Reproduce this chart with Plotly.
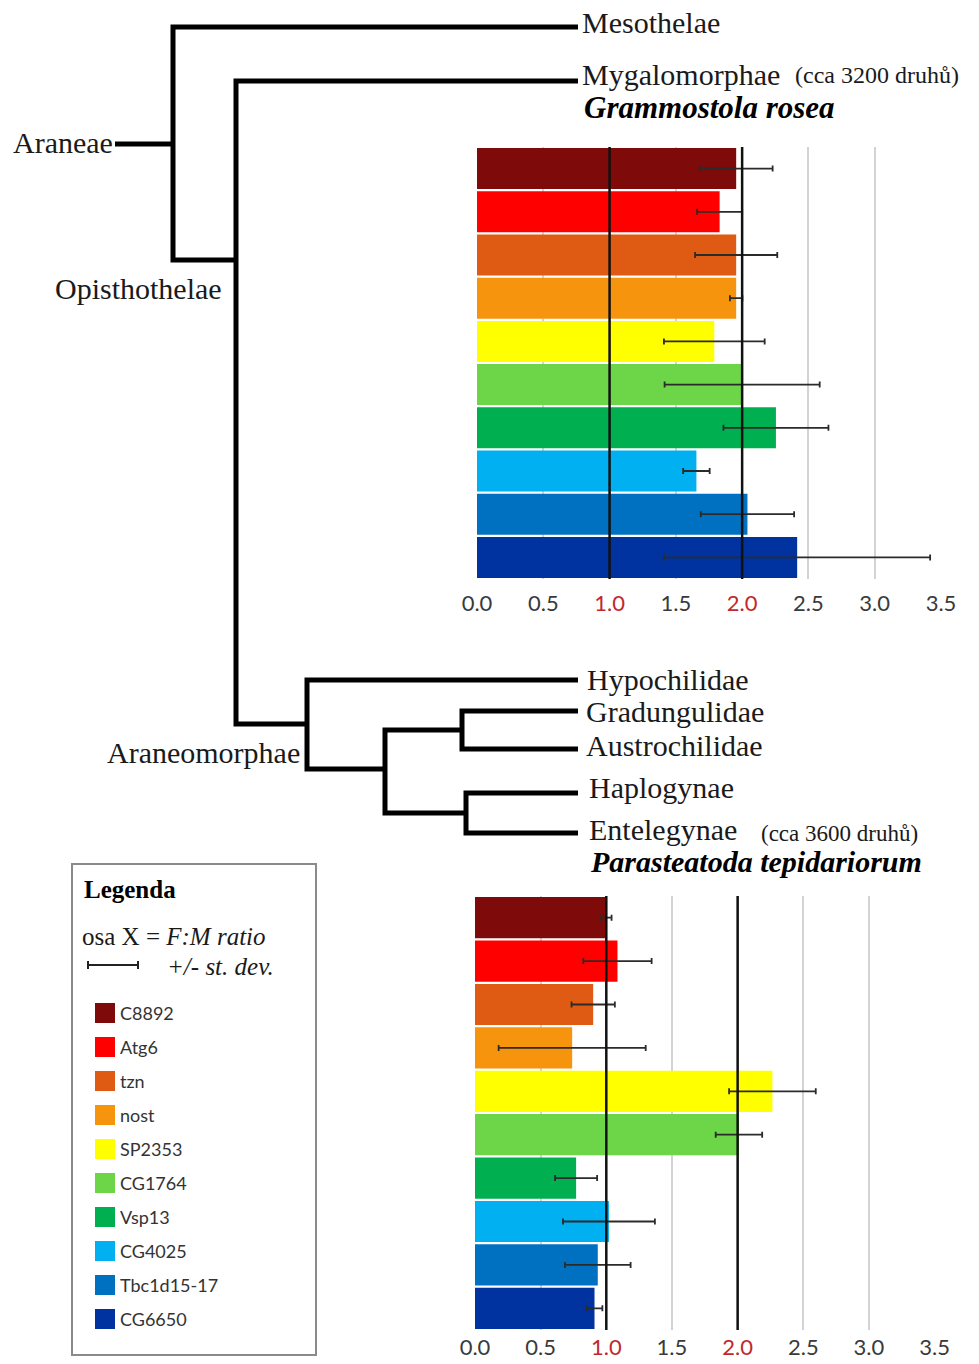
import plotly.graph_objects as go

# ---------------- data ----------------
genes = ["C8892", "Atg6", "tzn", "nost", "SP2353", "CG1764", "Vsp13", "CG4025", "Tbc1d15-17", "CG6650"]
gene_colors = ["#7E0A0A", "#FF0000", "#DF5A12", "#F7940E", "#FFFF00", "#6CD648", "#00B050", "#00B0F0", "#0070C0", "#0033A0"]

# Grammostola rosea (Mygalomorphae): F:M ratio and st. dev.
rosea_ratio = [1.955, 1.83, 1.955, 1.955, 1.79, 2.0, 2.255, 1.655, 2.04, 2.415]
rosea_sd = [0.275, 0.17, 0.31, 0.047, 0.38, 0.585, 0.396, 0.10, 0.352, 1.003]

# Parasteatoda tepidariorum (Entelegynae): F:M ratio and st. dev.
tep_ratio = [1.0, 1.085, 0.90, 0.74, 2.265, 2.01, 0.77, 1.02, 0.935, 0.91]
tep_sd = [0.04, 0.26, 0.165, 0.56, 0.33, 0.177, 0.16, 0.35, 0.25, 0.06]

tick_vals = [0.0, 0.5, 1.0, 1.5, 2.0, 2.5, 3.0, 3.5]
tick_labels = ["0.0", "0.5", "1.0", "1.5", "2.0", "2.5", "3.0", "3.5"]
highlight_ticks = ["1.0", "2.0"]

# ---------------- figure ----------------
W, H = 979, 1364
RED = "#C0282D"
ticktext = [f"<span style='color:{RED}'>{t}</span>" if t in highlight_ticks else t for t in tick_labels]

fig = go.Figure()

err_style = dict(type="data", color="#2b2b2b", thickness=1.8, width=3)

fig.add_trace(go.Bar(x=rosea_ratio, y=genes, orientation="h", marker=dict(color=gene_colors, line=dict(width=0)),
                     error_x=dict(array=rosea_sd, **err_style), xaxis="x", yaxis="y", showlegend=False,
                     hoverinfo="x+y"))
fig.add_trace(go.Bar(x=tep_ratio, y=genes, orientation="h", marker=dict(color=gene_colors, line=dict(width=0)),
                     error_x=dict(array=tep_sd, **err_style), xaxis="x2", yaxis="y2", showlegend=False,
                     hoverinfo="x+y"))

# ---------------- tree (pixel-space overlay axes) ----------------
tree_paths = [
    [(578, 27), (173, 27), (173, 260), (236, 260)],
    [(115, 144), (173, 144)],
    [(578, 81), (236, 81), (236, 724), (307, 724)],
    [(578, 680), (307, 680), (307, 769), (385, 769)],
    [(462, 730), (385, 730), (385, 813), (466, 813)],
    [(578, 711), (462, 711), (462, 749), (578, 749)],
    [(578, 793), (466, 793), (466, 833), (578, 833)],
]
for p in tree_paths:
    fig.add_trace(go.Scatter(x=[q[0] for q in p], y=[q[1] for q in p], mode="lines",
                             line=dict(color="black", width=5), xaxis="x3", yaxis="y3",
                             showlegend=False, hoverinfo="skip"))

SERIF = "Liberation Serif, Times New Roman, serif"
SANS = "Lato, Open Sans, sans-serif"
ann = []


def label(x, y, text, size=30, anchor="left", color="#1a1a1a", font=SERIF):
    ann.append(dict(x=x, y=y, xref="x3", yref="y3", text=text, showarrow=False, xanchor=anchor,
                    yanchor="middle", borderpad=0, font=dict(family=font, size=size, color=color)))


label(581, 22, "Mesothelae")
label(581, 74, "Mygalomorphae")
label(794, 75, "(cca 3200 druhů)", size=24)
label(583, 107, "<b><i>Grammostola rosea</i></b>", size=31, color="black")
label(114, 142, "Araneae", anchor="right")
label(223, 288, "Opisthothelae", anchor="right")
label(301, 752, "Araneomorphae", anchor="right")
label(586, 679, "Hypochilidae")
label(585, 711, "Gradungulidae")
label(585, 745, "Austrochilidae")
label(588, 787, "Haplogynae")
label(588, 829, "Entelegynae")
label(760, 833, "(cca 3600 druhů)", size=23)
label(589, 861, "<b><i>Parasteatoda tepidariorum</i></b>", size=30, color="black")

# ---------------- legend box ----------------
label(83, 889, "<b>Legenda</b>", size=25, color="black")
label(81, 936, "osa X = <i>F:M ratio</i>", size=25)
label(166, 966, "<i>+/- st. dev.</i>", size=25)
fig.add_trace(go.Scatter(x=[88, 138], y=[965, 965], mode="lines", line=dict(color="#222", width=2.2),
                         xaxis="x3", yaxis="y3", showlegend=False, hoverinfo="skip"))
for xc in (88, 138):
    fig.add_trace(go.Scatter(x=[xc, xc], y=[961, 969], mode="lines", line=dict(color="#222", width=2),
                             xaxis="x3", yaxis="y3", showlegend=False, hoverinfo="skip"))

leg_y = [1013 + 34 * i for i in range(len(genes))]
fig.add_trace(go.Scatter(x=[105] * len(genes), y=leg_y, mode="markers",
                         marker=dict(symbol="square", size=20, color=gene_colors, line=dict(width=0)),
                         xaxis="x3", yaxis="y3", showlegend=False, hoverinfo="skip"))
for g, yy in zip(genes, leg_y):
    label(119, yy, g, size=18, color="#333", font=SANS)

shapes = [
    dict(type="rect", xref="x3", yref="y3", x0=72, x1=316, y0=864, y1=1355,
         line=dict(color="#8a8a8a", width=2), fillcolor="rgba(0,0,0,0)", layer="below"),
]
for xa, ya in (("x", "y"), ("x2", "y2")):
    for v in (1.0, 2.0):
        shapes.append(dict(type="line", xref=xa, yref=f"{ya} domain",
                           x0=v, x1=v, y0=0, y1=1, line=dict(color="#111", width=2.5), layer="above"))

axis_x = dict(range=[0, 3.5], tickmode="array", tickvals=tick_vals, ticktext=ticktext,
              showgrid=True, gridcolor="#D3D3D3", gridwidth=1.5, zeroline=False, showline=False,
              ticks="", tickfont=dict(family=SANS, size=22, color="#3a3a3a"),
              fixedrange=True, automargin=False)
axis_y = dict(autorange="reversed", showticklabels=False, showgrid=False, zeroline=False,
              showline=False, ticks="", fixedrange=True, automargin=False)
hidden = dict(domain=[0, 1], visible=False, fixedrange=True, automargin=False,
              showgrid=False, zeroline=False)

fig.update_layout(
    template="none",
    width=W, height=H, margin=dict(l=0, r=0, t=0, b=0, pad=0, autoexpand=False),
    paper_bgcolor="white", plot_bgcolor="rgba(0,0,0,0)",
    bargap=0.05, showlegend=False,
    xaxis=dict(domain=[477 / W, 941 / W], anchor="y", ticklabelstandoff=9, **axis_x),
    yaxis=dict(domain=[1 - 579 / H, 1 - 147 / H], anchor="x", **axis_y),
    xaxis2=dict(domain=[475 / W, 934.6 / W], anchor="y2", ticklabelstandoff=2, **axis_x),
    yaxis2=dict(domain=[1 - 1330 / H, 1 - 896 / H], anchor="x2", **axis_y),
    xaxis3=dict(range=[0, W], anchor="y3", **hidden),
    yaxis3=dict(range=[H, 0], anchor="x3", **hidden),
    annotations=ann, shapes=shapes,
)

fig.write_html("out.html")
